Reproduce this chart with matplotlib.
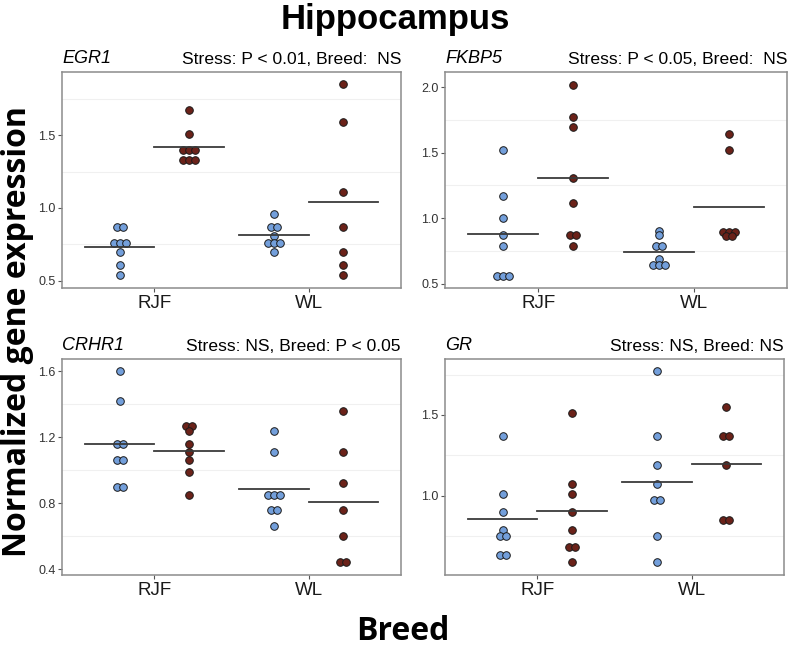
import matplotlib.pyplot as plt
import numpy as np
from collections import Counter

# Breeds on the x axis, two treatment groups per breed
breeds = ['RJF', 'WL']
groups = ['Control', 'Stress']
colors = {'Control': '#739fdb', 'Stress': '#6b2219'}

genes = ['EGR1', 'FKBP5', 'CRHR1', 'GR']
stats = ['Stress: P < 0.01, Breed:  NS',
         'Stress: P < 0.05, Breed:  NS',
         'Stress: NS, Breed: P < 0.05',
         'Stress: NS, Breed: NS']

# values (RJF control, RJF stress, WL control, WL stress)
egr1_rjf_ctrl = [0.87, 0.87, 0.76, 0.76, 0.76, 0.70, 0.61, 0.54]
egr1_rjf_str = [1.67, 1.51, 1.40, 1.40, 1.40, 1.33, 1.33, 1.33]
egr1_wl_ctrl = [0.96, 0.87, 0.87, 0.81, 0.76, 0.76, 0.76, 0.70]
egr1_wl_str = [1.85, 1.59, 1.11, 0.87, 0.70, 0.61, 0.54]

fkbp5_rjf_ctrl = [1.52, 1.17, 1.00, 0.87, 0.79, 0.56, 0.56, 0.56]
fkbp5_rjf_str = [2.02, 1.77, 1.70, 1.31, 1.12, 0.87, 0.87, 0.79]
fkbp5_wl_ctrl = [0.90, 0.87, 0.79, 0.79, 0.69, 0.64, 0.64, 0.64]
fkbp5_wl_str = [1.64, 1.52, 0.895, 0.895, 0.895, 0.865, 0.865]

crhr1_rjf_ctrl = [1.60, 1.42, 1.16, 1.16, 1.06, 1.06, 0.90, 0.90]
crhr1_rjf_str = [1.27, 1.27, 1.24, 1.16, 1.11, 1.06, 0.99, 0.85]
crhr1_wl_ctrl = [1.24, 1.11, 0.85, 0.85, 0.85, 0.76, 0.76, 0.66]
crhr1_wl_str = [1.36, 1.11, 0.92, 0.76, 0.60, 0.44, 0.44]

gr_rjf_ctrl = [1.37, 1.01, 0.90, 0.79, 0.75, 0.75, 0.63, 0.63]
gr_rjf_str = [1.51, 1.07, 1.01, 0.90, 0.79, 0.68, 0.68, 0.59]
gr_wl_ctrl = [1.77, 1.37, 1.19, 1.07, 0.97, 0.97, 0.75, 0.59]
gr_wl_str = [1.55, 1.37, 1.37, 1.19, 0.85, 0.85]

data = {
    'EGR1': [egr1_rjf_ctrl, egr1_rjf_str, egr1_wl_ctrl, egr1_wl_str],
    'FKBP5': [fkbp5_rjf_ctrl, fkbp5_rjf_str, fkbp5_wl_ctrl, fkbp5_wl_str],
    'CRHR1': [crhr1_rjf_ctrl, crhr1_rjf_str, crhr1_wl_ctrl, crhr1_wl_str],
    'GR': [gr_rjf_ctrl, gr_rjf_str, gr_wl_ctrl, gr_wl_str],
}

yticks = {'EGR1': [0.5, 1.0, 1.5], 'FKBP5': [0.5, 1.0, 1.5, 2.0],
          'CRHR1': [0.4, 0.8, 1.2, 1.6], 'GR': [1.0, 1.5]}
yminor = {'EGR1': [0.75, 1.25, 1.75], 'FKBP5': [0.75, 1.25, 1.75],
          'CRHR1': [0.6, 1.0, 1.4], 'GR': [0.75, 1.25, 1.75]}
ylims = {'EGR1': (0.45, 1.934), 'FKBP5': (0.467, 2.117),
         'CRHR1': (0.364, 1.675), 'GR': (0.508, 1.847)}

W, H = 789, 649
# panel boxes in pixels: left, right, top, bottom
boxes = [(62, 401, 72, 288), (445, 787, 72, 288),
         (62, 401, 359, 575), (445, 784, 359, 575)]

fig = plt.figure(figsize=(W / 100, H / 100), dpi=100)
font = 'Liberation Sans'
dodge = 0.225
dot_step = 0.039

for gene, stat, (l, r, t, b) in zip(genes, stats, boxes):
    ax = fig.add_axes([l / W, 1 - b / H, (r - l) / W, (b - t) / H])
    for i, vals in enumerate(data[gene]):
        breed_x = i // 2 + 1
        grp = groups[i % 2]
        cx = breed_x + (dodge if grp == 'Stress' else -dodge)
        # stack equal values side by side, centred on the group position
        counts = Counter(vals)
        xs, ys = [], []
        for v, n in counts.items():
            for k in range(n):
                xs.append(cx + (k - (n - 1) / 2) * dot_step)
                ys.append(v)
        ax.scatter(xs, ys, s=30, color=colors[grp], edgecolor='#1a1a1a',
                   linewidth=0.7, zorder=3)
        m = np.mean(vals)
        x0 = breed_x - 0.45 if grp == 'Control' else breed_x
        ax.plot([x0, x0 + 0.45], [m, m], color='#3a3a3a', lw=1.3, zorder=4)

    for g in yminor[gene]:
        ax.axhline(g, color='#f0f0f0', lw=0.8, zorder=0)
    ax.set_xlim(0.4, 2.6)
    ax.set_ylim(*ylims[gene])
    ax.set_xticks([1, 2])
    ax.set_xticklabels(breeds, fontsize=13.5, family=font, color='#1a1a1a')
    ax.set_yticks(yticks[gene])
    ax.set_yticklabels([f'{v:.1f}' for v in yticks[gene]], fontsize=9,
                       family=font, color='#333333')
    ax.tick_params(axis='both', color='#555555', length=3, width=0.8)
    ax.tick_params(axis='x', pad=2)
    ax.tick_params(axis='y', pad=1.5)
    for s in ax.spines.values():
        s.set_color('#8c8c8c')
        s.set_linewidth(1.1)
    ax.text(0.0, 1.025, gene, transform=ax.transAxes, fontsize=13,
            style='italic', family=font, ha='left', va='bottom')
    ax.text(1.0, 1.025, stat, transform=ax.transAxes, fontsize=12.6,
            family=font, ha='right', va='bottom')

fig.text(395 / W, 1 - 19 / H, 'Hippocampus', fontsize=25, fontweight='bold',
         family=font, ha='center', va='center')
fig.text(18 / W, 1 - 332 / H, 'Normalized gene expression', fontsize=23,
         fontweight='bold', family='Open Sans', rotation=90,
         ha='center', va='center')
fig.text(403 / W, 1 - 632 / H, 'Breed', fontsize=23, fontweight='bold',
         family='Open Sans', ha='center', va='center')

fig.savefig('out.png', dpi=100)
